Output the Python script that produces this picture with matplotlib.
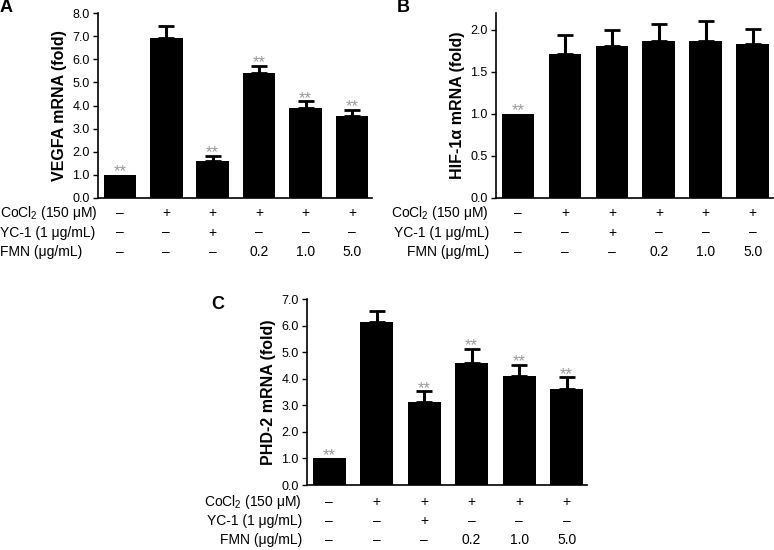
import matplotlib
matplotlib.use("Agg")
import matplotlib.pyplot as plt
from matplotlib.transforms import blended_transform_factory
from matplotlib.ticker import FormatStrFormatter

plt.rcParams['font.family'] = ['Liberation Sans', 'DejaVu Sans']
plt.rcParams['mathtext.fontset'] = 'custom'
plt.rcParams['mathtext.rm'] = 'Liberation Sans'
plt.rcParams['mathtext.default'] = 'regular'

# ---- data ----
groups = ["ctrl", "CoCl2", "CoCl2+YC-1", "FMN 0.2", "FMN 1.0", "FMN 5.0"]
cocl2_row = ["–", "+", "+", "+", "+", "+"]
yc1_row = ["–", "–", "+", "–", "–", "–"]
fmn_row = ["–", "–", "–", "0.2", "1.0", "5.0"]
row_labels = [r"CoCl$_2$ (150 μM)", "YC-1 (1 μg/mL)", "FMN (μg/mL)"]

vegfa = [1.0, 6.92, 1.62, 5.42, 3.88, 3.55]
vegfa_err = [0.0, 0.53, 0.2, 0.3, 0.3, 0.25]
vegfa_sig = [True, False, True, True, True, True]

hif = [1.0, 1.71, 1.81, 1.865, 1.87, 1.83]
hif_err = [0.0, 0.23, 0.19, 0.21, 0.24, 0.18]
hif_sig = [True, False, False, False, False, False]

phd = [1.0, 6.12, 3.13, 4.6, 4.12, 3.63]
phd_err = [0.0, 0.41, 0.39, 0.52, 0.4, 0.42]
phd_sig = [True, False, True, True, True, True]

W, H = 774, 550
fig = plt.figure(figsize=(W / 100, H / 100), dpi=100)


def px_axes(l, t, r, b):
    return fig.add_axes([l / W, 1 - b / H, (r - l) / W, (b - t) / H])


def panel(ax, vals, errs, sig, ylim, yticks, ylabel, letter, letter_xy,
          rows_y, label_x, label_ha):
    x = list(range(len(vals)))
    ax.bar(x, vals, width=0.7, color="black", zorder=2)
    for xi, v, e in zip(x, vals, errs):
        if e > 0:
            ax.errorbar([xi], [v], yerr=[[0], [e]], fmt="none", ecolor="black",
                        elinewidth=2.2, capsize=6.0, capthick=2.0, zorder=1)
    for xi, v, e, s in zip(x, vals, errs, sig):
        if s:
            ax.annotate("**", xy=(xi, v + e), xytext=(0, -1.0),
                        textcoords="offset points", ha="center", va="baseline",
                        fontsize=12, color="#9a9a9a")
    ax.set_xlim(-0.47, 5.43)
    ax.set_ylim(*ylim)
    ax.set_yticks(yticks)
    ax.yaxis.set_major_formatter(FormatStrFormatter("%.1f"))
    ax.tick_params(axis="y", direction="out", length=3.5, width=1, labelsize=9, pad=2.5)
    ax.tick_params(axis="x", length=0, labelbottom=False)
    for sp in ["top", "right"]:
        ax.spines[sp].set_visible(False)
    for sp in ["left", "bottom"]:
        ax.spines[sp].set_linewidth(1.2)
    ax.set_ylabel(ylabel, fontsize=11.5, fontweight="bold", labelpad=4)
    fig.text(letter_xy[0] / W, 1 - letter_xy[1] / H, letter, fontsize=13,
             fontweight="bold", ha="left", va="top")
    tr = blended_transform_factory(ax.transData, fig.transFigure)
    for row, lab, yy in zip([cocl2_row, yc1_row, fmn_row], row_labels, rows_y):
        yf = 1 - yy / H
        fig.text(label_x / W, yf, lab, ha=label_ha, va="center", fontsize=10)
        for xi, s in zip(x, row):
            ax.text(xi, yf, s, transform=tr, ha="center", va="center", fontsize=10)


axA = px_axes(98, 13, 372, 198)
panel(axA, vegfa, vegfa_err, vegfa_sig, (0, 8.0), [0, 1, 2, 3, 4, 5, 6, 7, 8],
      "VEGFA mRNA (fold)", "A", (0, -1), (213.5, 232.5, 252), 0, "left")

axB = px_axes(496, 13, 773, 198)
panel(axB, hif, hif_err, hif_sig, (0, 2.2), [0, 0.5, 1.0, 1.5, 2.0],
      "HIF-1α mRNA (fold)", "B", (397, -1), (213.5, 232.5, 252), 489, "right")

axC = px_axes(307, 299, 587, 485)
panel(axC, phd, phd_err, phd_sig, (0, 7.0), [0, 1, 2, 3, 4, 5, 6, 7],
      "PHD-2 mRNA (fold)", "C", (211, 296), (502, 521, 540), 302, "right")

fig.savefig("out.png", dpi=100)
